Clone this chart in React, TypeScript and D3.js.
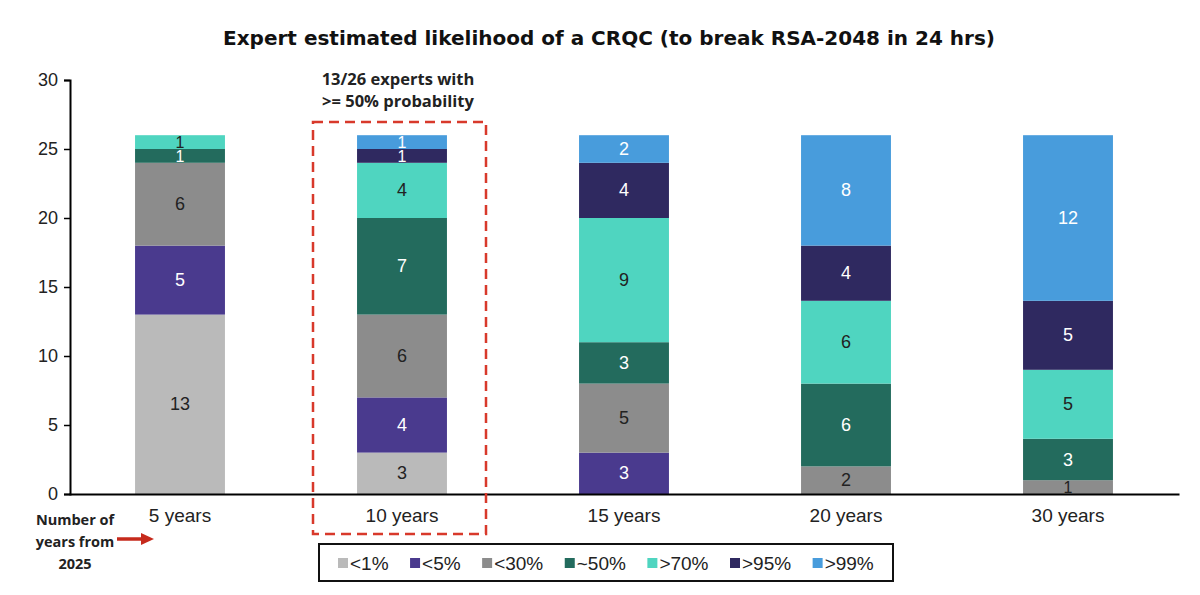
import React, { useEffect, useRef } from 'react';
import * as d3 from 'd3';

// categories along the x axis
const horizons = ['5 years', '10 years', '15 years', '20 years', '30 years'];

// likelihood buckets, bottom to top of each stack
const buckets = ['<1%', '<5%', '<30%', '~50%', '>70%', '>95%', '>99%'];

// number of experts per bucket, one array per bucket (order follows horizons)
const lt1 = [13, 3, 0, 0, 0];
const lt5 = [5, 4, 3, 0, 0];
const lt30 = [6, 6, 5, 2, 1];
const approx50 = [1, 7, 3, 6, 3];
const gt70 = [1, 4, 9, 6, 5];
const gt95 = [0, 1, 4, 4, 5];
const gt99 = [0, 1, 2, 8, 12];

const yTicks = [0, 5, 10, 15, 20, 25, 30];

const colors = ['#bababa', '#4a3a8e', '#8c8c8c', '#236b5d', '#4fd5c0', '#2f2960', '#489cdc'];
const darkText = [true, false, true, false, true, false, false];

const App = () => {
  const ref = useRef<SVGSVGElement>(null);

  useEffect(() => {
    const svg = d3.select(ref.current);
    svg.selectAll('*').remove();

    const left = 69;
    const right = 1179;
    const top = 80;
    const bottom = 494;
    const sans = 'Liberation Sans, Arial, sans-serif';

    const series = [lt1, lt5, lt30, approx50, gt70, gt95, gt99];
    const rows = horizons.map((h, i) => {
      const r: any = { horizon: h };
      buckets.forEach((b, j) => (r[b] = series[j][i]));
      return r;
    });

    const x = d3.scaleBand().domain(horizons).range([left, right]).paddingInner(0.595).paddingOuter(0.2975);
    const y = d3.scaleLinear().domain([0, 30]).range([bottom, top]);

    const stacked = d3.stack().keys(buckets)(rows);

    // Title
    svg
      .append('text')
      .attr('x', 609)
      .attr('y', 45)
      .attr('text-anchor', 'middle')
      .style('font-family', 'DejaVu Sans, Verdana, sans-serif')
      .style('font-weight', 'bold')
      .style('font-size', '20px')
      .style('fill', '#111')
      .text('Expert estimated likelihood of a CRQC (to break RSA-2048 in 24 hrs)');

    // Bars
    const layer = svg
      .selectAll('g.layer')
      .data(stacked)
      .enter()
      .append('g')
      .attr('class', 'layer')
      .attr('fill', (d, i) => colors[i]);

    layer
      .selectAll('rect')
      .data((d) => d)
      .enter()
      .append('rect')
      .attr('x', (d: any) => x(d.data.horizon)!)
      .attr('width', x.bandwidth())
      .attr('y', (d) => y(d[1]))
      .attr('height', (d) => y(d[0]) - y(d[1]));

    // Segment labels
    stacked.forEach((s, i) => {
      svg
        .append('g')
        .selectAll('text')
        .data(s.filter((d) => d[1] - d[0] > 0))
        .enter()
        .append('text')
        .attr('x', (d: any) => x(d.data.horizon)! + x.bandwidth() / 2)
        .attr('y', (d) => (y(d[0]) + y(d[1])) / 2 + 6)
        .attr('text-anchor', 'middle')
        .style('font-family', sans)
        .style('font-size', d3.min(s, (d) => d[1] - d[0] || 99) === 1 ? '17px' : '18px')
        .style('font-size', (d) => (d[1] - d[0] === 1 ? '16px' : '18px'))
        .style('fill', darkText[i] ? '#222' : '#fff')
        .text((d) => d[1] - d[0]);
    });

    // Y axis
    const yAxis = svg
      .append('g')
      .attr('transform', `translate(${left + 1},0)`)
      .call(d3.axisLeft(y).tickValues(yTicks).tickSize(6).tickPadding(6));
    yAxis.select('.domain').attr('stroke', '#000').attr('stroke-width', 2);
    yAxis.selectAll('.tick line').attr('stroke', '#000').attr('stroke-width', 1.5);
    yAxis
      .selectAll('.tick text')
      .style('font-family', sans)
      .style('font-size', '18px')
      .style('fill', '#222');

    // X axis
    const xAxis = svg
      .append('g')
      .attr('transform', `translate(0,${bottom})`)
      .call(d3.axisBottom(x).tickSize(0).tickPadding(15));
    xAxis.select('.domain').attr('stroke', '#000').attr('stroke-width', 2);
    xAxis
      .selectAll('.tick text')
      .style('font-family', sans)
      .style('font-size', '19px')
      .style('fill', '#222');

    // Dashed highlight around 10 years
    const hx = x('10 years')! + x.bandwidth() / 2;
    svg
      .append('rect')
      .attr('x', hx - 89)
      .attr('y', 122)
      .attr('width', 173)
      .attr('height', 412)
      .attr('fill', 'none')
      .attr('stroke', '#d8392b')
      .attr('stroke-width', 2.5)
      .attr('stroke-dasharray', '10,6');

    const note = svg
      .append('text')
      .attr('text-anchor', 'middle')
      .style('font-family', 'Open Sans, sans-serif')
      .style('font-weight', 'bold')
      .style('font-size', '16.5px')
      .style('fill', '#222');
    note.append('tspan').attr('x', hx - 4).attr('y', 85).text('13/26 experts with');
    note.append('tspan').attr('x', hx - 4).attr('y', 107).text('>= 50% probability');

    // Bottom-left note and arrow
    const side = svg
      .append('text')
      .attr('text-anchor', 'middle')
      .style('font-family', 'Open Sans, sans-serif')
      .style('font-weight', 'bold')
      .style('font-size', '14.5px')
      .style('fill', '#222');
    ['Number of', 'years from', '2025'].forEach((t, i) =>
      side.append('tspan').attr('x', 75).attr('y', 525 + i * 22).text(t)
    );
    svg
      .append('line')
      .attr('x1', 117)
      .attr('x2', 143)
      .attr('y1', 539)
      .attr('y2', 539)
      .attr('stroke', '#c62a1c')
      .attr('stroke-width', 3.5);
    svg
      .append('path')
      .attr('d', 'M141,533L154,539L141,545Z')
      .attr('fill', '#c62a1c');

    // Legend
    const lg = svg.append('g');
    lg.append('rect')
      .attr('x', 319)
      .attr('y', 544)
      .attr('width', 574)
      .attr('height', 37)
      .attr('fill', '#fff')
      .attr('stroke', '#111')
      .attr('stroke-width', 2);
    let cx = 338;
    buckets.forEach((b, i) => {
      lg.append('rect')
        .attr('x', cx)
        .attr('y', 558)
        .attr('width', 10)
        .attr('height', 10)
        .attr('fill', colors[i]);
      const t = lg
        .append('text')
        .attr('x', cx + 12)
        .attr('y', 569.5)
        .style('font-family', sans)
        .style('font-size', '19px')
        .style('fill', '#222')
        .text(b);
      const w = (t.node() as SVGTextElement).getComputedTextLength();
      cx += 12 + w + 21.5;
    });
  }, []);

  return (
    <svg
      ref={ref}
      width={1200}
      height={595}
      style={{ position: 'absolute', left: 0, top: 0, background: '#fff' }}
    />
  );
};

export default App;
